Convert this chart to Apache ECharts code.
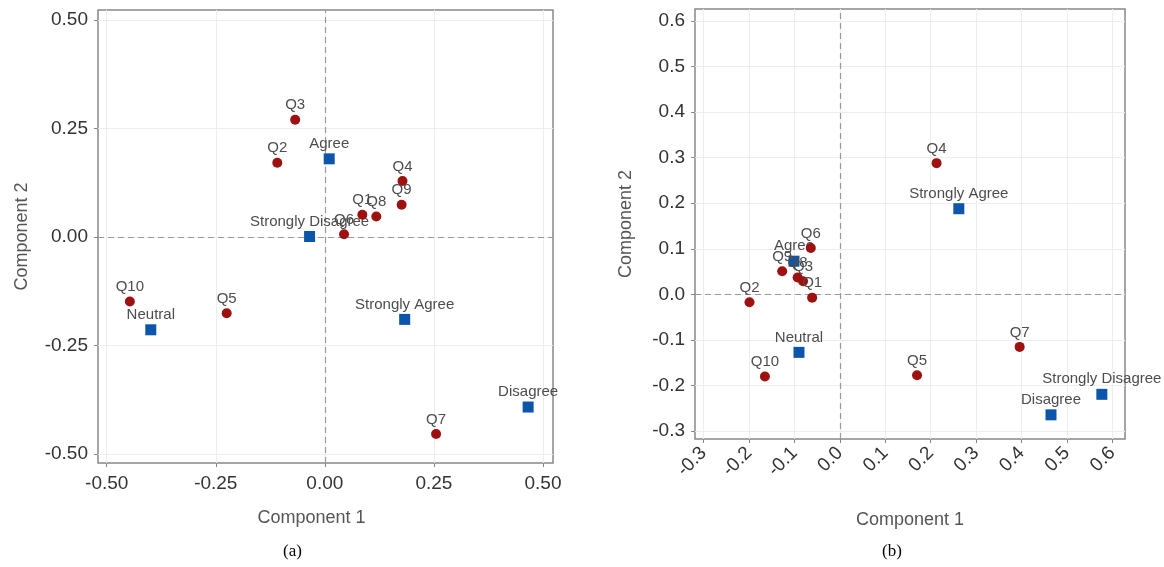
<!DOCTYPE html>
<html>
<head>
<meta charset="utf-8">
<script src="https://cdn.jsdelivr.net/npm/echarts@6/dist/echarts.min.js"></script>
<style>
    html, body {margin: 0; padding: 0; background: #fff;}
    #main {width: 1164px; height: 567px;}
</style>
</head>
<body>
<div id="main"></div>
<script>
// question labels and response labels
let questionNames = ['Q1', 'Q2', 'Q3', 'Q4', 'Q5', 'Q6', 'Q7', 'Q8', 'Q9', 'Q10']
let responseNames = ['Strongly Agree', 'Agree', 'Neutral', 'Disagree', 'Strongly Disagree']

// panel (a): [component 1, component 2]
let questionsA = [[0.086, 0.051], [-0.109, 0.171], [-0.068, 0.270], [0.178, 0.129], [-0.225, -0.176],
    [0.044, 0.006], [0.255, -0.454], [0.118, 0.047], [0.176, 0.074], [-0.447, -0.149]]
let responsesA = [[0.183, -0.190], [0.010, 0.180], [-0.399, -0.214], [0.466, -0.392], [-0.035, 0.001]]

// panel (b)
let questionsB = [[-0.061, -0.007], [-0.199, -0.017], [-0.081, 0.029], [0.213, 0.288], [0.170, -0.177],
    [-0.064, 0.102], [0.396, -0.115], [-0.093, 0.037], [-0.127, 0.051], [-0.165, -0.180]]
let responsesB = [[0.262, 0.188], [-0.101, 0.073], [-0.090, -0.127], [0.465, -0.264], [0.577, -0.219]]

// tick labels
let ticksA = [-0.5, -0.25, 0, 0.25, 0.5]
let ticksB = [-0.3, -0.2, -0.1, 0, 0.1, 0.2, 0.3, 0.4, 0.5, 0.6]

let font = 'Liberation Sans, Arial, sans-serif'
let red = '#9e1111'
let blue = '#0b56aa'

function makeAxis(type, idx, min, max, ticks, digits, title, gap, rotate, shift) {
    return {
        type: 'value',
        gridIndex: idx,
        min: min,
        max: max,
        name: title,
        nameLocation: 'middle',
        nameGap: gap,
        nameTextStyle: {fontFamily: font, fontSize: 18, color: '#555', padding: shift ? [0, shift, 0, 0] : 0},
        axisLine: {show: false, onZero: false},
        axisTick: {show: true, length: 4, customValues: ticks, lineStyle: {color: '#888'}},
        axisLabel: {
            customValues: ticks,
            rotate: rotate || 0,
            margin: type === 'x' ? 11 : 10,
            fontFamily: font,
            fontSize: 19,
            color: '#333',
            formatter: function (v) { return v.toFixed(digits) }
        },
        splitLine: {show: true, lineStyle: {color: '#ededed', width: 1}}
    }
}

function pts(names, values) {
    let out = []
    values.forEach(function (v, i) {
        out.push({name: names[i], value: v})
    })
    return out
}

function makeSeries(idx, names, values, symbol, color, withRef) {
    let s = {
        type: 'scatter',
        xAxisIndex: idx,
        yAxisIndex: idx,
        symbol: symbol,
        symbolSize: symbol === 'rect' ? 11 : 10,
        itemStyle: {color: color, opacity: 1},
        label: {
            show: true,
            position: 'top',
            distance: 2,
            formatter: '{b}',
            fontFamily: font,
            fontSize: 15,
            color: '#4d4d4d'
        },
        emphasis: {disabled: true},
        data: pts(names, values),
        z: symbol === 'rect' ? 3 : 4
    }
    if (withRef) {
        s.markLine = {
            silent: true,
            symbol: 'none',
            label: {show: false},
            lineStyle: {color: '#999', type: [6, 4], width: 1.2},
            data: [{xAxis: 0}, {yAxis: 0}],
            z: 1
        }
    }
    return s
}

let myChart = echarts.init(document.getElementById('main'))

let option = {
    animation: false,
    backgroundColor: '#fff',
    title: [
        {text: '(a)', left: 278, top: 538, textStyle: {fontFamily: 'Liberation Serif, Times New Roman, serif', fontSize: 17, fontWeight: 'normal', color: '#000'}},
        {text: '(b)', left: 877, top: 538, textStyle: {fontFamily: 'Liberation Serif, Times New Roman, serif', fontSize: 17, fontWeight: 'normal', color: '#000'}}
    ],
    grid: [
        {left: 98, top: 10, width: 455, height: 453, show: true, borderColor: '#888', borderWidth: 1.5, containLabel: false},
        {left: 695, top: 9, width: 430, height: 430, show: true, borderColor: '#888', borderWidth: 1.5, containLabel: false}
    ],
    xAxis: [
        makeAxis('x', 0, -0.52, 0.523, ticksA, 2, 'Component 1', 46, 0, 28),
        makeAxis('x', 1, -0.319, 0.628, ticksB, 1, 'Component 1', 72, 45)
    ],
    yAxis: [
        makeAxis('y', 0, -0.521, 0.523, ticksA, 2, 'Component 2', 67),
        makeAxis('y', 1, -0.317, 0.626, ticksB, 1, 'Component 2', 60)
    ],
    series: [
        makeSeries(0, questionNames, questionsA, 'circle', red, true),
        makeSeries(0, responseNames, responsesA, 'rect', blue, false),
        makeSeries(1, questionNames, questionsB, 'circle', red, true),
        makeSeries(1, responseNames, responsesB, 'rect', blue, false)
    ]
}
myChart.setOption(option)
</script>
</body>
</html>
